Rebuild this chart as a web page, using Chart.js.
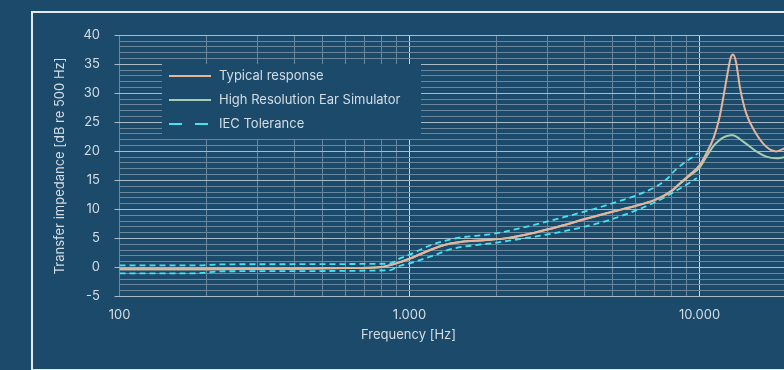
<!DOCTYPE html>
<html lang="en">
<head>
<meta charset="utf-8">
<title>Transfer impedance</title>
<script src="https://cdn.jsdelivr.net/npm/chart.js"></script>
<style>
    html, body { margin: 0; padding: 0; }
    body {
        width: 784px;
        height: 370px;
        overflow: hidden;
        position: relative;
        background: #1b4a6b;
    }
    /* white frame, its right and bottom sides run past the window */
    #frame {
        position: absolute;
        left: 31px;
        top: 11px;
        width: 800px;
        height: 356px;
        border: 2px solid #e3eaf0;
    }
    #chart-box {
        position: absolute;
        left: 0;
        top: 0;
        width: 751px;
        height: 354px;
    }
</style>
</head>
<body>
<div id="frame">
    <div id="chart-box"><canvas id="chart"></canvas></div>
</div>

<script>
    // curve data (Hz / dB re 500 Hz)
    const freqHz = [100, 200, 400, 600, 800, 900, 1000, 1150, 1300, 1500, 1800, 2200, 2700, 3300, 4000,
        5000, 6000, 7000, 8000, 8600, 9200, 10000, 10600, 11200, 11700, 12100, 12500, 12800, 13050, 13350,
        13800, 14500, 15700, 17000, 18400, 19600];
    const typicalDb = [-0.3, -0.3, -0.2, -0.1, 0.1, 0.7, 1.5, 2.8, 3.8, 4.4, 4.7, 5.1, 6.0, 7.1, 8.3,
        9.6, 10.6, 11.6, 13.2, 14.6, 15.9, 17.6, 19.8, 22.4, 25.7, 29.5, 33.5, 36.1, 36.7, 35.5,
        30.9, 26.5, 23.0, 20.8, 20.0, 20.5];
    const hiResDb = [-0.3, -0.3, -0.2, -0.1, 0.1, 0.7, 1.5, 2.8, 3.8, 4.4, 4.7, 5.1, 6.0, 7.1, 8.3,
        9.6, 10.6, 11.6, 13.1, 14.5, 15.7, 17.2, 19.2, 21.0, 21.9, 22.4, 22.7, 22.8, 22.8, 22.6,
        22.1, 21.3, 20.0, 19.1, 18.8, 19.0];

    // IEC tolerance band
    const tolUpperHz = [100, 180, 230, 850, 930, 1000, 1150, 1400, 2000, 3300, 4900, 7000, 7700, 8300, 9900];
    const tolUpperDb = [0.35, 0.35, 0.55, 0.65, 1.6, 2.2, 3.6, 4.9, 5.9, 8.5, 10.9, 13.8, 15.2, 16.9, 19.7];
    const tolLowerHz = [100, 180, 230, 850, 930, 1000, 1200, 1400, 2000, 3300, 4900, 7000, 8300, 9800];
    const tolLowerDb = [-1.0, -1.0, -0.65, -0.5, 0.3, 0.7, 2.0, 3.2, 4.3, 6.1, 8.2, 11.2, 13.2, 15.4];

    // axes
    const xGridHz = [100, 200, 300, 400, 500, 600, 700, 800, 900,
        1000, 2000, 3000, 4000, 5000, 6000, 7000, 8000, 9000, 10000];
    const xLabelHz = [100, 1000, 10000];
    const xLabelText = ['100', '1.000', '10.000'];
    const yMin = -5, yMax = 40;

    const legendLabels = ['Typical response', 'High Resolution Ear Simulator', 'IEC Tolerance'];

    const BG = '#1b4a6b';
    const TEXT = '#d5dde4';
    const C_TYP = '#e6b49b';
    const C_HIRES = '#a6cdb2';
    const C_TOL = '#45e4f0';
    const GRID_MINOR = '#6a879e';
    const GRID_MAJOR = '#a9bac8';
    const GRID_DECADE = '#cdd8e1';
    const FONT = 'Inter';

    function toPoints(xs, ys) {
        return xs.map((x, i) => ({x: x, y: ys[i]}));
    }

    // legend box drawn inside the plot
    const boxLegend = {
        id: 'boxLegend',
        beforeDatasetsDraw(chart) {
            const {ctx, chartArea} = chart;
            const x0 = chartArea.left + 42.5;
            const y0 = chartArea.top + 28.7;
            const colors = [C_TYP, C_HIRES, C_TOL];
            ctx.save();
            ctx.fillStyle = BG;
            ctx.fillRect(x0, y0, 259, 75);
            ctx.font = '13px ' + FONT;
            ctx.textBaseline = 'middle';
            legendLabels.forEach((label, i) => {
                const y = y0 + 12 + i * 24;
                ctx.strokeStyle = colors[i];
                ctx.lineWidth = 2;
                ctx.setLineDash(i === 2 ? [13, 13] : []);
                ctx.beginPath();
                ctx.moveTo(x0 + 7, y);
                ctx.lineTo(x0 + 49, y);
                ctx.stroke();
                ctx.setLineDash([]);
                ctx.fillStyle = TEXT;
                ctx.fillText(label, x0 + 57, y);
            });
            ctx.restore();
        }
    };

    const lineBase = {
        pointRadius: 0,
        fill: false,
        cubicInterpolationMode: 'monotone'
    };

    const chart = new Chart(document.getElementById('chart'), {
        type: 'line',
        data: {
            datasets: [
                Object.assign({}, lineBase, {
                    label: 'IEC Tolerance',
                    data: toPoints(tolUpperHz, tolUpperDb),
                    borderColor: C_TOL,
                    borderWidth: 1.8,
                    borderDash: [6, 4]
                }),
                Object.assign({}, lineBase, {
                    label: 'IEC Tolerance (lower)',
                    data: toPoints(tolLowerHz, tolLowerDb),
                    borderColor: C_TOL,
                    borderWidth: 1.8,
                    borderDash: [6, 4]
                }),
                Object.assign({}, lineBase, {
                    label: 'Typical response',
                    data: toPoints(freqHz, typicalDb),
                    borderColor: C_TYP,
                    borderWidth: 2
                }),
                Object.assign({}, lineBase, {
                    label: 'High Resolution Ear Simulator',
                    data: toPoints(freqHz, hiResDb),
                    borderColor: C_HIRES,
                    borderWidth: 2
                })
            ]
        },
        options: {
            responsive: true,
            maintainAspectRatio: false,
            animation: false,
            layout: {
                padding: {top: 21, bottom: 24.2, left: 0, right: 0}
            },
            plugins: {
                legend: {display: false},
                tooltip: {enabled: false},
                title: {
                    display: true,
                    position: 'bottom',
                    text: 'Frequency [Hz]',
                    color: TEXT,
                    font: {family: FONT, size: 13, weight: 'normal'},
                    padding: {top: 2.7, bottom: 0}
                }
            },
            scales: {
                x: {
                    type: 'logarithmic',
                    min: 100,
                    max: 19560,
                    border: {display: false},
                    afterBuildTicks: (scale) => {
                        scale.ticks = xGridHz.map(v => ({value: v}));
                    },
                    afterFit: (scale) => { scale.height = 28; },
                    grid: {
                        drawTicks: false,
                        color: (c) => {
                            const v = c.tick ? c.tick.value : 0;
                            return (v === 1000 || v === 10000) ? GRID_DECADE : GRID_MINOR;
                        }
                    },
                    ticks: {
                        autoSkip: false,
                        maxRotation: 0,
                        padding: 11,
                        color: TEXT,
                        font: {family: FONT, size: 13},
                        callback: (v) => {
                            const i = xLabelHz.indexOf(v);
                            return i >= 0 ? xLabelText[i] : '';
                        }
                    }
                },
                y: {
                    min: yMin,
                    max: yMax,
                    border: {display: false},
                    afterFit: (scale) => { scale.width = 86.5; },
                    title: {
                        display: true,
                        text: 'Transfer impedance [dB re 500 Hz]',
                        color: TEXT,
                        font: {family: FONT, size: 13},
                        padding: {top: 19.2, bottom: 0}
                    },
                    grid: {
                        tickLength: 5,
                        color: (c) => (c.tick && c.tick.value % 5 === 0) ? GRID_MAJOR : GRID_MINOR,
                        tickColor: (c) => (c.tick && c.tick.value % 5 === 0) ? GRID_MAJOR : 'rgba(0,0,0,0)'
                    },
                    ticks: {
                        stepSize: 1,
                        autoSkip: false,
                        padding: 14.5,
                        color: TEXT,
                        font: {family: FONT, size: 13},
                        callback: (v) => (v % 5 === 0 ? String(v) : '')
                    }
                }
            }
        },
        plugins: [boxLegend]
    });
</script>
</body>
</html>
